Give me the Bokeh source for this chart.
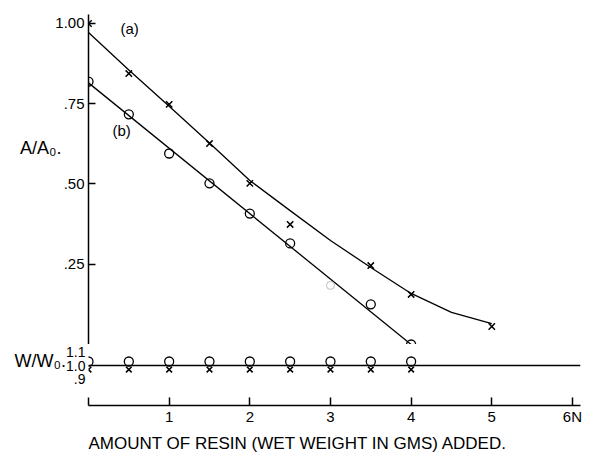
from bokeh.plotting import figure
from bokeh.layouts import column
from bokeh.models import FixedTicker, Label, Span, Range1d, Title, LinearAxis
from bokeh.embed import file_html
from bokeh.resources import INLINE

FONT = "Liberation Sans"

# ---- data ----
# upper panel: A/A0 versus amount of resin
resin_a = [0, 0.5, 1, 1.5, 2, 2.5, 3.5, 4, 5]
ratio_a = [1.00, 0.844, 0.748, 0.626, 0.502, 0.374, 0.246, 0.156, 0.056]
resin_b = [0, 0.5, 1, 1.5, 2, 2.5, 3.5, 4]
ratio_b = [0.819, 0.717, 0.595, 0.502, 0.408, 0.315, 0.125, 0.0]
faint_b_x = [3]
faint_b_y = [0.184]
# drawn (hand-fitted) curves
curve_a_x = [0, 0.5, 1, 1.5, 2, 2.5, 3, 3.5, 4, 4.5, 5]
curve_a_y = [0.972, 0.855, 0.742, 0.628, 0.511, 0.417, 0.324, 0.240, 0.159, 0.100, 0.065]
curve_b_x = [0, 4]
curve_b_y = [0.815, 0.0]

# lower panel: W/W0
w_x = [0, 0.5, 1, 1.5, 2, 2.5, 3, 3.5, 4]
w_circle = [1.03, 1.03, 1.03, 1.03, 1.03, 1.03, 1.03, 1.03, 1.03]
w_cross = [0.97, 0.97, 0.97, 0.97, 0.97, 0.97, 0.97, 0.97, 0.97]

upper_ticks = [0.25, 0.5, 0.75, 1.0]
upper_tick_labels = {0.25: ".25", 0.5: ".50", 0.75: ".75", 1.0: "1.00"}
lower_ticks = [0.9, 1.0, 1.1]
lower_tick_labels = {0.9: ".9", 1.0: "1.0", 1.1: "1.1"}
x_ticks = [0, 1, 2, 3, 4, 5, 6]
x_tick_labels = {0: "", 1: "1", 2: "2", 3: "3", 4: "4", 5: "5", 6: "6N"}

# ---- upper figure ----
p1 = figure(width=583, height=344, x_range=Range1d(0, 6.1), y_range=Range1d(0, 1.028),
            output_backend="svg", toolbar_location=None, x_axis_location=None,
            min_border_left=88, min_border_right=3, min_border_top=14, min_border_bottom=0,
            outline_line_color=None, background_fill_color="white")
p1.grid.visible = False
ya = p1.yaxis[0]
ya.ticker = FixedTicker(ticks=upper_ticks)
ya.major_label_overrides = upper_tick_labels
ya.major_tick_in = 7
ya.major_tick_out = 0
ya.minor_tick_line_color = None
ya.axis_line_width = 1.5
ya.major_tick_line_width = 1.5
ya.major_label_text_font = FONT
ya.major_label_text_font_size = "15px"
ya.major_label_text_color = "black"
ya.major_label_standoff = 4

# axis carrying only the "A/A0." title, placed beside the tick labels
# (padding lines lift the visible line above the frame centre, as in the reference)
title_axis = LinearAxis(ticker=FixedTicker(ticks=[]),
                        axis_line_color=None, major_tick_line_color=None,
                        minor_tick_line_color=None, major_label_text_font_size="0px",
                        axis_label="A/A₀.\n \n ", axis_label_orientation="horizontal",
                        axis_label_standoff=-9, axis_label_text_font=FONT,
                        axis_label_text_font_size="18px", axis_label_text_font_style="normal",
                        axis_label_text_line_height=1.6, axis_label_text_color="black")
p1.add_layout(title_axis, "left")

p1.line(curve_a_x, curve_a_y, line_color="black", line_width=1.3)
p1.line(curve_b_x, curve_b_y, line_color="black", line_width=1.3)
p1.scatter(resin_a, ratio_a, marker="x", size=9, line_color="black", line_width=1.5)
p1.scatter(resin_b, ratio_b, marker="circle", size=9, fill_color=None,
           line_color="black", line_width=1.3)
p1.scatter(faint_b_x, faint_b_y, marker="circle", size=8, fill_color=None,
           line_color="#bbbbbb", line_width=1.0)

p1.add_layout(Label(x=0.51, y=0.985, text="(a)", text_align="center", text_baseline="middle",
                    text_font=FONT, text_font_size="15px", text_color="black"))
p1.add_layout(Label(x=0.41, y=0.667, text="(b)", text_align="center", text_baseline="middle",
                    text_font=FONT, text_font_size="15px", text_color="black"))

# ---- lower figure ----
p2 = figure(width=583, height=112, x_range=p1.x_range, y_range=Range1d(0.704, 1.156),
            output_backend="svg", toolbar_location=None,
            min_border_left=88, min_border_right=3, min_border_top=0, min_border_bottom=51,
            outline_line_color=None, background_fill_color="white")
p2.grid.visible = False
ly = p2.yaxis[0]
ly.ticker = FixedTicker(ticks=lower_ticks)
ly.major_label_overrides = lower_tick_labels
ly.axis_line_color = None
ly.major_tick_line_color = None
ly.minor_tick_line_color = None
ly.major_tick_out = 0
ly.major_tick_in = 0
ly.major_label_standoff = 3
ly.major_label_text_font = FONT
ly.major_label_text_font_size = "14px"
ly.major_label_text_color = "black"
ly.axis_label = "W/W₀.\n "
ly.axis_label_orientation = "horizontal"
ly.axis_label_standoff = -3
ly.axis_label_text_font = FONT
ly.axis_label_text_font_size = "18px"
ly.axis_label_text_font_style = "normal"
ly.axis_label_text_line_height = 1.44
ly.axis_label_text_color = "black"

xa = p2.xaxis[0]
xa.ticker = FixedTicker(ticks=x_ticks)
xa.major_label_overrides = x_tick_labels
xa.major_tick_in = 8
xa.major_tick_out = 0
xa.minor_tick_line_color = None
xa.axis_line_width = 1.5
xa.major_tick_line_width = 1.5
xa.major_label_standoff = 2
xa.major_label_text_font = FONT
xa.major_label_text_font_size = "15px"
xa.major_label_text_color = "black"

p2.add_layout(Span(location=1.0, dimension="width", line_color="black", line_width=1.5))
p2.scatter(w_x, w_circle, marker="circle", size=9, fill_color=None,
           line_color="black", line_width=1.3)
p2.scatter(w_x, w_cross, marker="x", size=8, line_color="black", line_width=1.6)

p2.add_layout(Title(text="AMOUNT OF RESIN (WET WEIGHT IN GMS) ADDED.", align="left",
                    text_font=FONT, text_font_size="17px", text_font_style="normal",
                    text_color="black", standoff=8), "below")

layout = column(p1, p2, spacing=0)
open("out.html", "w").write(file_html(layout, INLINE))
